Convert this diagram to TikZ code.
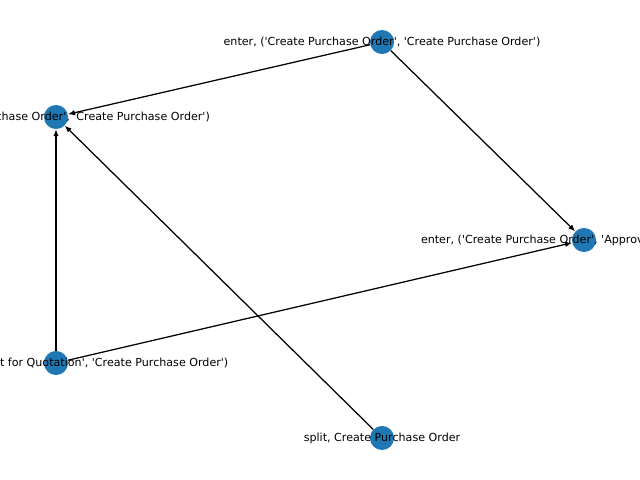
\documentclass[tikz,border=0pt]{standalone}
\usepackage{fontspec}
\setmainfont{DejaVu Sans}[Ligatures=TeXOff]
\usetikzlibrary{arrows.meta}
\definecolor{nodeblue}{HTML}{1F77B4}
\begin{document}
\begin{tikzpicture}[x=0.72pt,y=-0.72pt,
  vert/.style={circle,fill=nodeblue,minimum size=17.3pt,inner sep=0pt},
  lbl/.style={font=\fontsize{8pt}{9.6pt}\selectfont,inner sep=0pt,anchor=center},
  arr/.style={draw=black,line width=0.9pt,-{Latex[length=5pt,width=4pt]}}]
\useasboundingbox (0,0) rectangle (640,480);
\clip (0,0) rectangle (640,480);
\node[vert] (a) at (382,42) {};
\node[vert] (b) at (56,117) {};
\node[vert] (c) at (584,240) {};
\node[vert] (d) at (56,363) {};
\node[vert] (e) at (382,438) {};
\draw[arr] (a) -- (b);
\draw[arr] (a) -- (c);
\draw[arr] (d) -- (b);
\draw[arr] (d) -- (c);
\draw[arr] (e) -- (b);
\node[lbl] (la) at (382,42) {enter, ('Create Purchase Order', 'Create Purchase Order')};
\node[lbl] (lb) at (56,117) {exit, ('Create Purchase Order', 'Create Purchase Order')};
\node[lbl] (lc) at (584,240) {enter, ('Create Purchase Order', 'Approve Purchase Order')};
\node[lbl] (ld) at (56,363) {exit, ('Create Request for Quotation', 'Create Purchase Order')};
\node[lbl] (le) at (382,438) {split, Create Purchase Order};
\end{tikzpicture}
\end{document}
